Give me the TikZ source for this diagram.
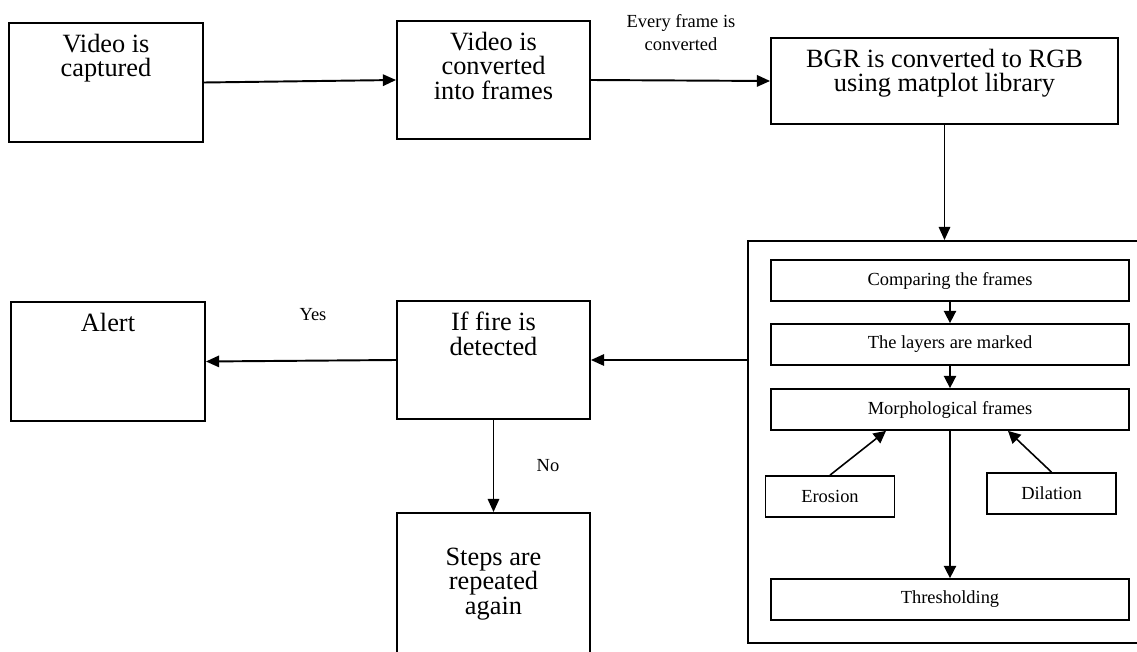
\documentclass[tikz,border=0pt]{standalone}
\usepackage{fontspec}
\setmainfont{Liberation Serif}
\usetikzlibrary{arrows.meta,positioning,calc}
\newcommand{\bigtext}{\fontsize{15}{14}\selectfont}
\newcommand{\smalltext}{\fontsize{10.5}{13}\selectfont}
\newcommand{\toptext}[3]{\parbox[c][#2][t]{#1}{\centering\vspace*{0.22cm}#3}}

\begin{document}
\begin{tikzpicture}[x=0.02cm,y=-0.02cm,
  stepbox/.style={draw,line width=1.1pt,inner sep=0pt,font=\bigtext},
  subbox/.style={draw,line width=1pt,inner sep=0pt,minimum width=7.16cm,minimum height=0.82cm,font=\smalltext},
  sidebox/.style={draw,line width=1pt,inner sep=0pt,minimum width=2.58cm,minimum height=0.82cm,font=\smalltext},
  lbl/.style={font=\smalltext,align=center,inner sep=0pt},
  flow/.style={line width=1.1pt,-{Triangle[length=7.5pt,width=6.5pt]}},
  subflow/.style={line width=0.9pt,-{Triangle[length=7pt,width=7pt]}}]
\path[use as bounding box] (0,0) rectangle (1137,652);
\clip (0,0) rectangle (1137,652);

% top row
\node[stepbox] (cap) at (106,82.5) {\toptext{3.88cm}{2.38cm}{Video is\\captured}};
\node[stepbox] (frm) at (493.5,80) {\toptext{3.86cm}{2.36cm}{Video is\\converted\\into frames}};
\node[stepbox] (bgr) at (944.5,81) {\toptext{6.94cm}{1.72cm}{BGR is converted to RGB\\using matplot library}};
\node[lbl] (every) at (681,33) {Every frame is\\converted};

% processing block
\node[draw,line width=1.1pt,inner sep=0pt,minimum width=7.94cm,minimum height=8.04cm] (proc) at (946.5,442) {};
\node[subbox] (cmp) at (950,280.5) {Comparing the frames};
\node[subbox] (lay) at (950,344.5) {The layers are marked};
\node[subbox] (mor) at (950,409.5) {Morphological frames};
\node[sidebox] (ero) at (830,496.5) {Erosion};
\node[sidebox] (dil) at (1051.5,493.5) {Dilation};
\node[subbox] (thr) at (950,599.5) {Thresholding};

% decision row
\node[stepbox] (fire) at (493.5,360) {\toptext{3.86cm}{2.36cm}{If fire is\\detected}};
\node[stepbox] (alert) at (108,361.5) {\toptext{3.88cm}{2.38cm}{Alert}};
\node[stepbox,align=center,minimum width=3.86cm,minimum height=2.84cm] (rep) at (493.5,584) {Steps are\\repeated\\again};
\node[lbl] (yes) at (313,315) {Yes};
\node[lbl] (no) at (548,466) {No};

% connectors
\draw[flow] (cap.east) -- (frm.west);
\draw[flow] (frm.east) -- (bgr.west);
\draw[flow] (bgr.south) -- (bgr.south |- proc.north);
\draw[subflow] (cmp.south) -- (lay.north);
\draw[subflow] (lay.south) -- (mor.north);
\draw[subflow] (mor.south) -- (thr.north);
\draw[subflow] (ero.north) -- ([xshift=-1.28cm]mor.south);
\draw[subflow] (dil.north) -- ([xshift=1.16cm]mor.south);
\draw[flow] (proc.west |- fire.east) -- (fire.east);
\draw[flow] (fire.west) -- (alert.east);
\draw[flow] (fire.south) -- (rep.north);
\end{tikzpicture}
\end{document}
